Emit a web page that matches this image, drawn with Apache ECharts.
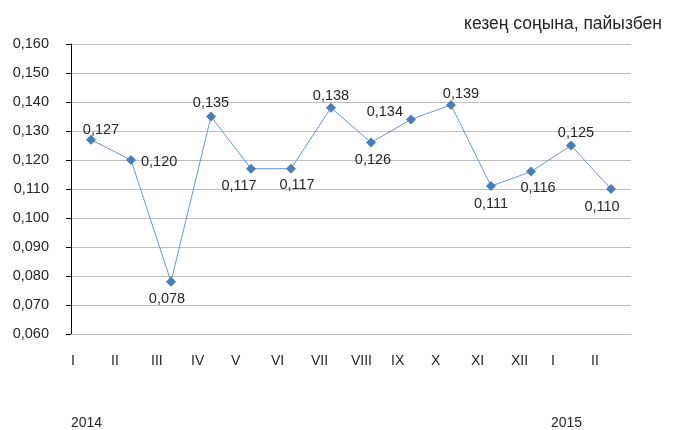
<!DOCTYPE html>
<html>
<head>
<meta charset="utf-8">
<script src="https://cdn.jsdelivr.net/npm/echarts@6/dist/echarts.min.js"></script>
<style>
  html, body { margin: 0; padding: 0; background: #fff; }
  #chart { width: 674px; height: 430px; }
</style>
</head>
<body>
<div id="chart"></div>
<script>
// months (2014 I .. 2015 II)
const months = ["I", "II", "III", "IV", "V", "VI", "VII", "VIII", "IX", "X", "XI", "XII", "I", "II"];
const years = ["2014", "", "", "", "", "", "", "", "", "", "", "", "2015", ""];
const values = [0.127, 0.120, 0.078, 0.135, 0.117, 0.117, 0.138, 0.126, 0.134, 0.139, 0.111, 0.116, 0.125, 0.110];
// where each value label sits relative to its marker
const labelPos = ["top", "right", "bottom", "top", "bottom", "bottom", "top", "bottom", "left", "top", "bottom", "bottom", "top", "bottom"];
const labelShift = [[10, 8], [0, 2], [-4, 0], [0, 4], [-12, 0], [6, -1], [0, 6], [2, 0], [2, -7], [10, 7], [0, 0], [7, -1], [5, 5], [-9, 0]];

const fmt = (v) => v.toFixed(3).replace(".", ",");
const FONT = "Liberation Sans, Arial, sans-serif";

const chart = echarts.init(document.getElementById("chart"));

const tickAxis = (data, margin) => ({
  type: "category",
  position: "bottom",
  boundaryGap: false,
  data: data.concat([""]),
  axisLine: { show: false },
  axisTick: { show: false },
  splitLine: { show: false },
  axisLabel: {
    interval: 0,
    align: "left",
    margin: margin,
    fontSize: 14,
    fontFamily: FONT,
    color: "#262626"
  }
});

chart.setOption({
  animation: false,
  textStyle: { fontFamily: FONT },
  title: {
    text: "кезең соңына, пайызбен",
    right: 7,
    top: 10,
    textStyle: { fontSize: 17.5, fontWeight: "normal", color: "#262626", fontFamily: FONT }
  },
  grid: { left: 71, right: 43, top: 44, bottom: 95 },
  xAxis: [
    {
      type: "category",
      data: months,
      boundaryGap: true,
      axisLine: { show: true, lineStyle: { color: "#bfbfbf", width: 1 } },
      axisTick: { show: false },
      axisLabel: { show: false }
    },
    tickAxis(months, 20),
    tickAxis(years, 82)
  ],
  yAxis: {
    type: "value",
    min: 0.06,
    max: 0.16,
    interval: 0.01,
    axisLine: { show: true, lineStyle: { color: "#000", width: 1 } },
    axisTick: { show: true, length: 5, lineStyle: { color: "#000" } },
    splitLine: { lineStyle: { color: "#bfbfbf", width: 1 } },
    axisLabel: {
      margin: 22,
      fontSize: 14.5,
      fontFamily: FONT,
      color: "#262626",
      formatter: fmt
    }
  },
  series: [
    {
      type: "line",
      xAxisIndex: 0,
      data: values.map((v, i) => ({
        value: v,
        label: { position: labelPos[i], offset: labelShift[i] }
      })),
      symbol: "diamond",
      symbolSize: 10,
      itemStyle: { color: "#4a7ebb" },
      lineStyle: { color: "#6b96cf", width: 1 },
      label: {
        show: true,
        distance: 5,
        fontSize: 14.5,
        fontFamily: FONT,
        color: "#262626",
        formatter: (p) => fmt(p.value)
      }
    }
  ]
});
</script>
</body>
</html>
